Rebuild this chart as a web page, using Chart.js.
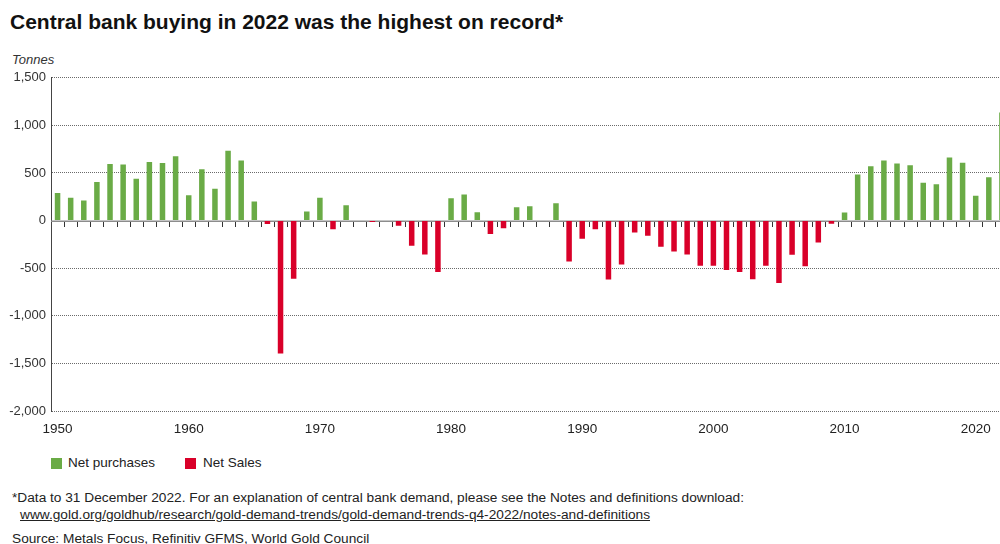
<!DOCTYPE html>
<html>
<head>
<meta charset="utf-8">
<script src="https://cdn.jsdelivr.net/npm/chart.js@4.4.1/dist/chart.umd.min.js"></script>
<style>
  html, body { margin: 0; padding: 0; }
  body {
    width: 1000px; height: 544px; overflow: hidden; position: relative;
    background: #fff; color: #222;
    font-family: "Liberation Sans", Arial, sans-serif;
  }
  .title { position: absolute; left: 10px; top: 9px; font-size: 21px; font-weight: bold; line-height: 26px; color: #111; white-space: nowrap; }
  .unit { position: absolute; left: 12px; top: 52px; font-size: 13px; font-style: italic; line-height: 16px; color: #333; }
  #wrap { position: absolute; left: 0; top: 65px; width: 1012px; height: 376px; }
  .legend { position: absolute; top: 455px; font-size: 13.5px; line-height: 16px; color: #222; }
  .legend span.box { position: absolute; top: 3px; width: 11px; height: 11px; }
  .note { position: absolute; left: 12px; font-size: 13.7px; line-height: 16px; color: #222; white-space: nowrap; }
  .note a { color: #222; text-decoration: underline; }
</style>
</head>
<body>
<div class="title">Central bank buying in 2022 was the highest on record*</div>
<div class="unit">Tonnes</div>
<div id="wrap"><canvas id="chart"></canvas></div>

<div class="legend" style="left:51px"><span class="box" style="left:0;background:#6aab46"></span><span style="margin-left:17px">Net purchases</span></div>
<div class="legend" style="left:185px"><span class="box" style="left:0;background:#d90029"></span><span style="margin-left:18px">Net Sales</span></div>

<div class="note" style="top:490px">*Data to 31 December 2022. For an explanation of central bank demand, please see the Notes and definitions download:</div>
<div class="note" style="top:507px;left:20px"><a>www.gold.org/goldhub/research/gold-demand-trends/gold-demand-trends-q4-2022/notes-and-definitions</a></div>
<div class="note" style="top:531px">Source: Metals Focus, Refinitiv GFMS, World Gold Council</div>

<script>
// central bank net purchases (+) / net sales (-), tonnes, 1950-2022
const years = [];
for (let y = 1950; y <= 2022; y++) years.push(y);

const tonnes = [
  290, 240, 210, 405, 595, 590, 440, 615, 605, 675,        // 1950s
  265, 540, 335, 735, 630, 200, -35, -1395, -610, 95,      // 1960s
  240, -90, 160, 0, -15, 0, -55, -265, -355, -540,         // 1970s
  235, 275, 88, -140, -80, 140, 150, 0, 182, -430,         // 1980s
  -190, -90, -620, -460, -125, -160, -275, -325, -355, -475, // 1990s
  -475, -520, -540, -615, -475, -655, -360, -480, -230, -32, // 2000s
  84, 484, 572, 632, 600, 582, 397, 382, 663, 607,         // 2010s
  260, 456, 1136                                           // 2020-2022
];

const yTicks = [1500, 1000, 500, 0, -500, -1000, -1500, -2000];

const purchases = tonnes.map(v => v > 0 ? v : null);
const sales = tonnes.map(v => v < 0 ? v : null);

// solid zero line with small year ticks hanging below it
const zeroLine = {
  id: 'zeroLine',
  beforeDatasetsDraw(chart) {
    const { ctx, chartArea, scales: { x, y } } = chart;
    const y0 = Math.round(y.getPixelForValue(0));
    ctx.save();
    ctx.strokeStyle = '#333';
    ctx.lineWidth = 1;
    for (let i = 1; i < years.length; i++) {
      const bx = Math.round((x.getPixelForValue(i - 1) + x.getPixelForValue(i)) / 2) + 0.5;
      ctx.beginPath();
      ctx.moveTo(bx, y0);
      ctx.lineTo(bx, y0 + 6);
      ctx.stroke();
    }
    ctx.strokeStyle = '#8c8c8c';
    ctx.lineWidth = 1.5;
    ctx.beginPath();
    ctx.moveTo(chartArea.left, y0 + 0.25);
    ctx.lineTo(chartArea.right, y0 + 0.25);
    ctx.stroke();
    ctx.restore();
  }
};

new Chart(document.getElementById('chart'), {
  type: 'bar',
  data: {
    labels: years.map(String),
    datasets: [
      { label: 'Net purchases', data: purchases, backgroundColor: '#6aab46' },
      { label: 'Net Sales', data: sales, backgroundColor: '#d90029' }
    ]
  },
  plugins: [zeroLine],
  options: {
    responsive: true,
    maintainAspectRatio: false,
    animation: false,
    layout: { padding: { top: 0, right: 3.5, left: 0, bottom: 0 } },
    datasets: { bar: { categoryPercentage: 1, barPercentage: 0.42 } },
    plugins: {
      legend: { display: false },
      tooltip: { enabled: false }
    },
    scales: {
      x: {
        stacked: true,
        offset: true,
        grid: { display: false, drawTicks: false },
        border: { display: false },
        afterFit: s => { s.height = 30; },
        ticks: {
          autoSkip: false,
          maxRotation: 0,
          padding: 10,
          color: '#222',
          font: { family: 'Liberation Sans', size: 13.5 },
          callback: (v, i) => years[i] % 10 === 0 ? String(years[i]) : ''
        }
      },
      y: {
        stacked: true,
        min: yTicks[yTicks.length - 1],
        max: yTicks[0],
        afterFit: s => { s.width = 51; },
        afterBuildTicks: s => { s.ticks = yTicks.map(v => ({ value: v })); },
        grid: {
          drawTicks: false,
          lineWidth: 1,
          color: c => (c.tick && c.tick.value === 0) ? 'rgba(0,0,0,0)' : '#6a6a6a'
        },
        border: { display: true, color: '#444', width: 1, dash: [1, 1] },
        ticks: {
          padding: 5,
          color: '#333',
          font: { family: 'Liberation Sans', size: 13 },
          callback: v => v.toLocaleString('en-US')
        }
      }
    }
  }
});
</script>
</body>
</html>
